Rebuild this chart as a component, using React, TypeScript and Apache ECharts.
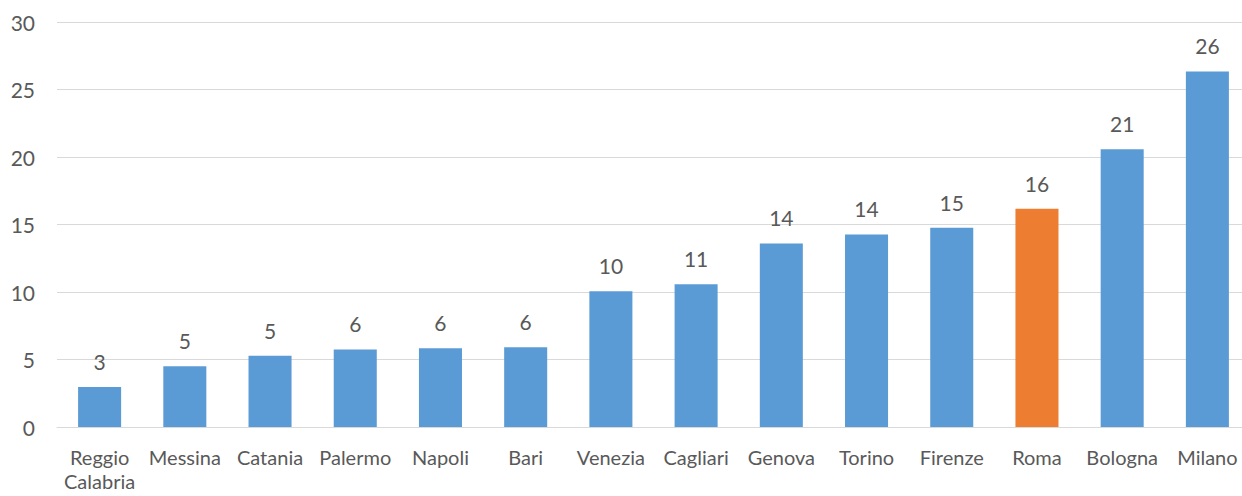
import React, { useEffect, useRef } from "react";
import * as echarts from "echarts";

const categories = [
  "Reggio\nCalabria", "Messina", "Catania", "Palermo", "Napoli", "Bari", "Venezia",
  "Cagliari", "Genova", "Torino", "Firenze", "Roma", "Bologna", "Milano",
];
const values = [2.97, 4.5, 5.27, 5.75, 5.84, 5.9, 10.05, 10.57, 13.6, 14.26, 14.76, 16.17, 20.57, 26.34];
const highlighted = ["Roma"];
const yTicks = [0, 5, 10, 15, 20, 25, 30];

const BLUE = "#5B9BD5";
const ORANGE = "#ED7D31";
const TEXT = "#595959";
const FONT = "Lato, 'Open Sans', sans-serif";

export default function App() {
  const ref = useRef<HTMLDivElement>(null);
  useEffect(() => {
    if (!ref.current) return;
    const chart = echarts.init(ref.current, undefined, { renderer: "svg" });
    chart.setOption({
      animation: false,
      grid: {
        left: 57, right: -8, top: 22, bottom: 69,
        containLabel: false, outerBoundsMode: "none",
      },
      xAxis: {
        type: "category",
        data: categories,
        axisLine: { show: true, lineStyle: { color: "#D9D9D9", width: 1 } },
        axisTick: { show: false },
        axisLabel: {
          color: TEXT, fontSize: 20, fontFamily: FONT, margin: 18, lineHeight: 24, interval: 0,
        },
      },
      yAxis: {
        type: "value",
        min: yTicks[0],
        max: yTicks[yTicks.length - 1],
        interval: 5,
        axisLine: { show: false },
        axisTick: { show: false },
        splitLine: { lineStyle: { color: "#D9D9D9", width: 1 } },
        axisLabel: { color: TEXT, fontSize: 21, fontFamily: FONT, margin: 22 },
      },
      series: [
        {
          type: "bar",
          barWidth: "50.5%",
          data: values.map((v, i) => ({
            value: v,
            itemStyle: { color: highlighted.includes(categories[i]) ? ORANGE : BLUE },
          })),
          label: {
            show: true,
            position: "top",
            distance: 15,
            color: TEXT,
            fontSize: 21,
            fontFamily: FONT,
            formatter: (p: any) => String(Math.round(p.value)),
          },
        },
      ],
    });
    return () => chart.dispose();
  }, []);
  return (
    <div
      ref={ref}
      style={{ position: "fixed", left: 0, top: 0, width: 1242, height: 496, background: "#fff" }}
    />
  );
}
